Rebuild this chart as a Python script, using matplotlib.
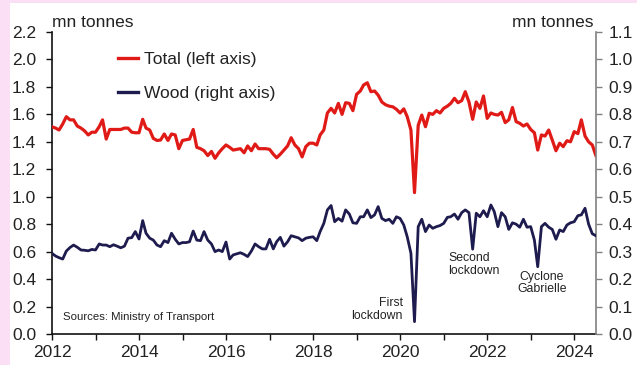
import numpy as np
import pandas as pd
import matplotlib
matplotlib.use("Agg")
import matplotlib.pyplot as plt
import matplotlib.dates as mdates
from matplotlib.patches import Rectangle
from matplotlib.ticker import FixedLocator, FuncFormatter

plt.rcParams["font.family"] = ["Liberation Sans", "DejaVu Sans"]

# Monthly freight volumes (month-end), Dec 2011 .. Jun 2024
dates = pd.date_range("2011-12-31", periods=151, freq="ME")

total = [
    1.51, 1.50, 1.486, 1.53, 1.583, 1.56, 1.56, 1.515, 1.50, 1.48,
    1.45, 1.47, 1.47, 1.51, 1.56, 1.42, 1.49, 1.49, 1.49, 1.49,
    1.50, 1.50, 1.47, 1.466, 1.466, 1.564, 1.50, 1.486, 1.425, 1.41,
    1.413, 1.457, 1.41, 1.457, 1.45, 1.35, 1.41, 1.415, 1.42, 1.49,
    1.36, 1.35, 1.335, 1.30, 1.33, 1.28, 1.32, 1.35, 1.377, 1.36,
    1.34, 1.345, 1.35, 1.32, 1.37, 1.335, 1.384, 1.35, 1.35, 1.35,
    1.345, 1.31, 1.284, 1.31, 1.34, 1.37, 1.43, 1.377, 1.35, 1.29,
    1.365, 1.39, 1.39, 1.377, 1.45, 1.486, 1.61, 1.644, 1.61, 1.68,
    1.60, 1.685, 1.68, 1.627, 1.746, 1.77, 1.814, 1.83, 1.765, 1.77,
    1.74, 1.69, 1.67, 1.66, 1.655, 1.637, 1.61, 1.64, 1.583, 1.486,
    1.03, 1.52, 1.595, 1.51, 1.608, 1.60, 1.627, 1.61, 1.644, 1.66,
    1.68, 1.717, 1.685, 1.70, 1.765, 1.69, 1.564, 1.69, 1.644, 1.734,
    1.571, 1.61, 1.60, 1.595, 1.615, 1.54, 1.56, 1.65, 1.547, 1.535,
    1.515, 1.53, 1.49, 1.466, 1.34, 1.45, 1.442, 1.486, 1.413, 1.335,
    1.39, 1.365, 1.408, 1.40, 1.474, 1.46, 1.56, 1.442, 1.40, 1.377,
    1.30,
]

wood = [
    0.294, 0.284, 0.278, 0.273, 0.302, 0.315, 0.324, 0.316, 0.306, 0.305,
    0.303, 0.308, 0.306, 0.328, 0.324, 0.324, 0.318, 0.325, 0.32, 0.314,
    0.32, 0.349, 0.351, 0.373, 0.346, 0.413, 0.367, 0.349, 0.342, 0.324,
    0.318, 0.34, 0.333, 0.367, 0.345, 0.328, 0.333, 0.333, 0.336, 0.375,
    0.342, 0.34, 0.373, 0.342, 0.328, 0.30, 0.306, 0.30, 0.335, 0.273,
    0.288, 0.292, 0.296, 0.29, 0.282, 0.302, 0.328, 0.318, 0.31, 0.31,
    0.345, 0.31, 0.336, 0.352, 0.32, 0.336, 0.358, 0.354, 0.35, 0.34,
    0.349, 0.352, 0.354, 0.34, 0.373, 0.403, 0.452, 0.468, 0.409, 0.421,
    0.411, 0.452, 0.437, 0.405, 0.403, 0.427, 0.427, 0.452, 0.424, 0.434,
    0.464, 0.421, 0.413, 0.418, 0.403, 0.427, 0.421, 0.397, 0.354, 0.294,
    0.045, 0.391, 0.418, 0.373, 0.397, 0.385, 0.391, 0.395, 0.403, 0.425,
    0.427, 0.437, 0.418, 0.442, 0.452, 0.442, 0.309, 0.44, 0.427, 0.449,
    0.427, 0.47, 0.446, 0.391, 0.442, 0.427, 0.381, 0.405, 0.40, 0.389,
    0.418, 0.389, 0.391, 0.342, 0.245, 0.391, 0.403, 0.389, 0.381, 0.345,
    0.379, 0.373, 0.397, 0.405, 0.409, 0.431, 0.434, 0.458, 0.40, 0.365,
    0.358,
]

left_ticks = [0.0, 0.2, 0.4, 0.6, 0.8, 1.0, 1.2, 1.4, 1.6, 1.8, 2.0, 2.2]
right_ticks = [0.0, 0.1, 0.2, 0.3, 0.4, 0.5, 0.6, 0.7, 0.8, 0.9, 1.0, 1.1]
years = list(range(2012, 2025))

RED = "#E01B17"
NAVY = "#1E1B4E"
TXT = "#222222"
FS = 12.5
NOTE_FS = 8.8

fig = plt.figure(figsize=(6.37, 3.65), dpi=100)
fig.patch.set_facecolor("#FBE0F5")
fig.add_artist(Rectangle((10 / 637, 0), 1 - 10 / 637, 1 - 3 / 365,
                         transform=fig.transFigure, facecolor="white",
                         edgecolor="none", zorder=0))

ax = fig.add_axes([52 / 637, 1 - 334 / 365, 544 / 637, 302 / 365])
ax.set_facecolor("none")
ax2 = ax.twinx()

l1, = ax.plot(dates, total, color=RED, lw=2.3, solid_joinstyle="round",
              label="Total (left axis)", zorder=3)
l2, = ax2.plot(dates, wood, color=NAVY, lw=2.0, solid_joinstyle="round",
               label="Wood (right axis)", zorder=3)

ax.set_xlim(pd.Timestamp("2012-01-01"), pd.Timestamp("2024-07-01"))
ax.set_ylim(0, 2.2)
ax2.set_ylim(0, 1.1)

ax.yaxis.set_major_locator(FixedLocator(left_ticks))
ax.yaxis.set_major_formatter(FuncFormatter(lambda v, p: f"{v:.1f}"))
ax2.yaxis.set_major_locator(FixedLocator(right_ticks))
ax2.yaxis.set_major_formatter(FuncFormatter(lambda v, p: f"{v:.1f}"))

ax.xaxis.set_major_locator(FixedLocator(
    [mdates.date2num(pd.Timestamp(f"{y}-01-01")) for y in years]))
ax.xaxis.set_major_formatter(FuncFormatter(
    lambda v, p: (str(mdates.num2date(v).year)
                  if mdates.num2date(v).year % 2 == 0 else "")))

for a in (ax, ax2):
    a.spines["top"].set_visible(False)
ax.spines["right"].set_visible(False)
ax2.spines["left"].set_visible(False)
ax2.spines["bottom"].set_visible(False)
ax.spines["left"].set_color("#111111")
ax.spines["bottom"].set_color("#111111")
ax2.spines["right"].set_color("#808080")
for s in ("left", "bottom"):
    ax.spines[s].set_linewidth(1.2)
ax2.spines["right"].set_linewidth(1.2)

ax.tick_params(axis="y", direction="out", length=4, width=1, colors="#111111",
               labelcolor=TXT, labelsize=FS, pad=7.5)
ax.tick_params(axis="x", direction="out", length=4, width=1, colors="#111111",
               labelcolor=TXT, labelsize=FS, pad=4)
ax2.tick_params(axis="y", direction="out", length=4, width=1, colors="#808080",
                labelcolor=TXT, labelsize=FS, pad=5)

ax.text(0.0, 1.0176, "mn tonnes", transform=ax.transAxes, ha="left",
        va="baseline", fontsize=FS, color=TXT)
ax.text(0.9945, 1.0176, "mn tonnes", transform=ax.transAxes, ha="right",
        va="baseline", fontsize=FS, color=TXT)

leg = ax.legend(handles=[l1, l2], loc="upper left",
                bbox_to_anchor=(0.121, 0.933), frameon=False,
                fontsize=FS, handlelength=1.15, handletextpad=0.35,
                labelspacing=1.04, borderaxespad=0, borderpad=0)
for t in leg.get_texts():
    t.set_color(TXT)
for h in leg.legend_handles:
    h.set_linewidth(2.4)

ax.text(0.020, 0.057, "Sources: Ministry of Transport", transform=ax.transAxes,
        fontsize=8.2, color=TXT, ha="left", va="center")

ax2.text(pd.Timestamp("2020-01-23"), 0.090, "First\nlockdown", ha="right",
         va="center", fontsize=NOTE_FS, color=TXT, linespacing=1.05)
ax2.text(pd.Timestamp("2021-02-05"), 0.253, "Second\nlockdown", ha="left",
         va="center", fontsize=NOTE_FS, color=TXT, linespacing=1.05)
ax2.text(pd.Timestamp("2023-04-05"), 0.186, "Cyclone\nGabrielle", ha="center",
         va="center", fontsize=NOTE_FS, color=TXT, linespacing=1.05)

fig.savefig("out.png", dpi=100, facecolor=fig.get_facecolor())
